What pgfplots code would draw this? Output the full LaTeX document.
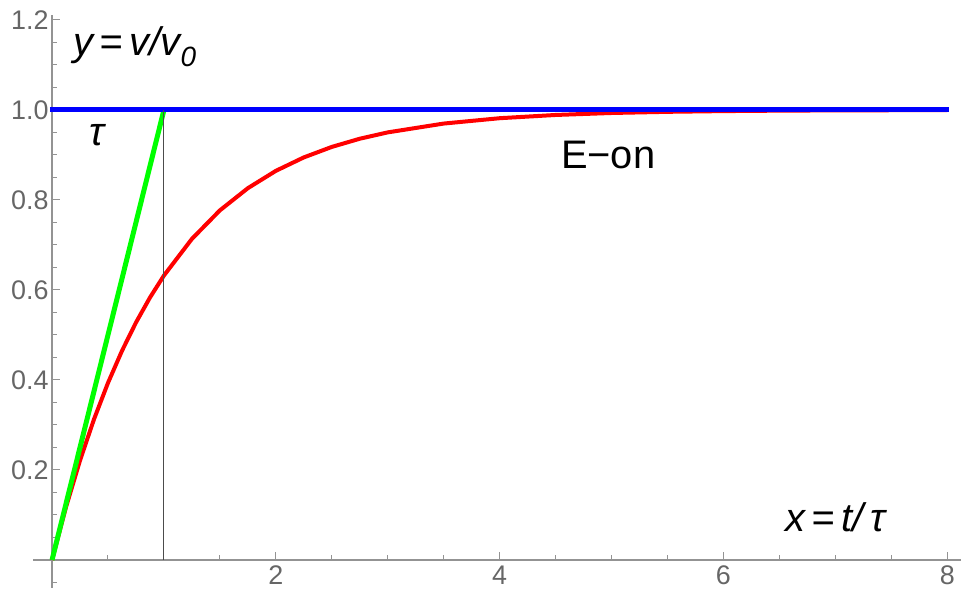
\documentclass[border=0pt]{standalone}
\usepackage{pgfplots}
\pgfplotsset{compat=1.18}
\usepackage{fontspec}
\setmainfont{Liberation Sans}

\begin{document}
\begin{tikzpicture}
\begin{axis}[
  x=111.9bp, y=450bp,
  xmin=-0.17, xmax=8.12,
  ymin=-0.062, ymax=1.211,
  axis lines=middle,
  axis line style={-, gray!85, line width=1.1bp},
  clip=false,
  xtick={2,4,6,8},
  minor xtick={0.5,1,1.5,2.5,3,3.5,4.5,5,5.5,6.5,7,7.5},
  ytick={0.2,0.4,0.6,0.8,1.0,1.2},
  minor ytick={-0.05,0.05,0.1,0.15,0.25,0.3,0.35,0.45,0.5,0.55,0.65,0.7,0.75,0.85,0.9,0.95,1.05,1.1,1.15},
  tick align=inside,
  major tick length=8bp,
  minor tick length=5bp,
  every tick/.style={gray!85, line width=1bp},
  tick label style={font=\fontsize{27}{27}\selectfont, text=black!60},
  xticklabel style={yshift=-2bp},
  /pgf/number format/assume math mode=true,
  yticklabel style={/pgf/number format/.cd, fixed, fixed zerofill, precision=1},
]
% response curve 1 - exp(-x)
\addplot[red, line width=4bp, line join=round] coordinates {
  (0,0) (0.125,0.1175) (0.25,0.2212) (0.375,0.3127) (0.5,0.3935) (0.625,0.4647)
  (0.75,0.5276) (0.875,0.5831) (1,0.6321) (1.25,0.7135) (1.5,0.7769)
  (1.75,0.8262) (2,0.8647) (2.25,0.8946) (2.5,0.9179) (2.75,0.9361)
  (3,0.9502) (3.5,0.9698) (4,0.9817) (4.5,0.9889) (5,0.9933)
  (5.5,0.9959) (6,0.9975) (6.5,0.9985) (7,0.9991) (7.5,0.9994) (8,0.9997)
};
% tangent at origin
\addplot[green, line width=5bp] coordinates {(0,0) (1,1)};
% asymptote
\addplot[blue, line width=5bp] coordinates {(-0.02,1) (8.02,1)};
% marker at x = 1
\addplot[black!70, line width=0.9bp] coordinates {(1,0) (1,1)};

\node[font=\fontsize{40}{40}\selectfont\itshape] at (axis cs:0.74,1.14) {y\,=\,v/v\textsubscript{0}};
\node[font=\fontsize{40}{40}\selectfont\itshape] at (axis cs:0.40,0.944) {τ};
\node[font=\fontsize{40}{40}\selectfont] at (axis cs:4.97,0.90) {E−on};
\node[font=\fontsize{40}{40}\selectfont\itshape] at (axis cs:7.0,0.096) {x\,=\,t/\,τ};

\coordinate (bl) at (axis cs:-0.465,-0.0778);
\coordinate (tr) at (axis cs:8.123,1.2444);
\end{axis}
\pgfresetboundingbox
\path[use as bounding box] (bl) rectangle (tr);
\end{tikzpicture}
\end{document}
